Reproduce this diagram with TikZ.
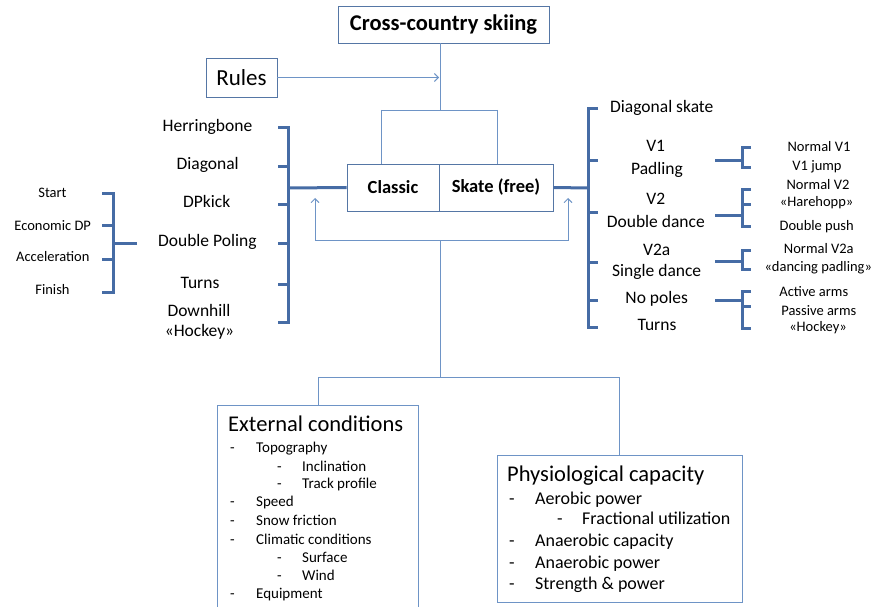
\documentclass[tikz,border=0pt]{standalone}
\usepackage{fontspec}
\setmainfont{Carlito}
\usetikzlibrary{arrows.meta}

\definecolor{brkc}{RGB}{70,108,165}
\definecolor{thinc}{RGB}{110,148,198}
\definecolor{boxc}{RGB}{85,118,165}

\begin{document}
\begin{tikzpicture}[x=1pt,y=1pt,yscale=-1,xscale=1,
  box/.style={draw=boxc, line width=0.9, inner sep=0},
  brk/.style={draw=brkc, line width=3},
  lnk/.style={draw=thinc, line width=0.9},
  tip/.style={-{Straight Barb[length=4pt,width=8pt]}},
  lab/.style={font=\fontsize{17.5}{20}\selectfont, anchor=base, inner sep=0},
  sm/.style={font=\fontsize{14.5}{17}\selectfont, anchor=base, inner sep=0},
  item/.style={font=\fontsize{15}{18}\selectfont, anchor=base west, inner sep=0},
  pitem/.style={font=\fontsize{18}{21}\selectfont, anchor=base west, inner sep=0},
  ttl/.style={font=\fontsize{22.5}{26}\selectfont, anchor=base west, inner sep=0}]
\useasboundingbox (0,0) rectangle (879,607);
\clip (0,0) rectangle (879,607);

% Boxes
\node[box, minimum width=211, minimum height=37, font=\bfseries\fontsize{22.5}{25}\selectfont] (top) at (443.5,24.5) {Cross-country skiing};
\node[box, minimum width=71, minimum height=39, font=\fontsize{23}{26}\selectfont] (rules) at (241.5,77.5) {Rules};
\node[box, minimum width=92, minimum height=47, font=\bfseries\fontsize{18.5}{22}\selectfont] (classic) at (393,187.5) {Classic};
\node[box, minimum width=114, minimum height=47, font=\bfseries\fontsize{18.5}{22}\selectfont] (skate) at (496,187.5) {Skate (free)};
\node[box, draw=thinc, anchor=north west, minimum width=201, minimum height=215] (ext) at (217,405) {};
\node[box, draw=thinc, anchor=north west, minimum width=245, minimum height=147] (phys) at (497,455) {};

%Straight Lines: top to Classic / Skate
\coordinate (split) at (440,110);
\draw[lnk] (top.south -| split) -- (split);
\draw[lnk] (381,110) -- (497,110);
\draw[lnk] (381,110) -- (381,164);
\draw[lnk] (497,110) -- (497,164);
\draw[lnk, tip] (rules.east) -- (439,77.5);

%Straight Lines: loop under the boxes
\coordinate (loopL) at (315,240);
\coordinate (loopR) at (568,240);
\coordinate (hub) at (440,377);
\coordinate (hl) at (318,377);
\coordinate (hr) at (619,377);
\draw[lnk, tip] (440,240) -- (loopL) -- (315,198);
\draw[lnk, tip] (440,240) -- (loopR) -- (568,198);
\draw[lnk] (440,240) -- (hub);
\draw[lnk] (hl) -- (hr);
\draw[lnk] (hl) -- (hl |- ext.north);
\draw[lnk] (hr) -- (hr |- phys.north);

%Bracket: Classic
\coordinate (lb) at (288,188);
\draw[brk] (classic.west) -- (lb);
\draw[brk] (278,128) -- (288,128) -- (288,322) -- (278,322);
\foreach \y in {167,205,243,284} \draw[brk] (278,\y) -- (288,\y);

\node[lab] (herr) at (207.5,131.7) {Herringbone};
\node[lab] (diag) at (207.7,170) {Diagonal};
\node[lab] (dpk) at (206.7,207.7) {DPkick};
\node[lab] (dp) at (207.3,246.7) {Double Poling};
\node[lab] (turnsL) at (200,288) {Turns};
\node[lab] (down) at (199,316.7) {Downhill};
\node[lab] (hockL) at (199.5,336) {«Hockey»};

%Bracket: Double Poling
\draw[brk] (137,243) -- (113,243);
\draw[brk] (102,194) -- (113,194) -- (113,292) -- (102,292);
\foreach \y in {226,259} \draw[brk] (102,\y) -- (113,\y);

\node[sm] (start) at (52.5,197.3) {Start};
\node[sm] (eco) at (52.7,230) {Economic DP};
\node[sm] (acc) at (52.8,261.7) {Acceleration};
\node[sm] (fin) at (52.5,294.3) {Finish};

%Bracket: Skate
\coordinate (rb) at (588,188);
\draw[brk] (skate.east) -- (rb);
\draw[brk] (598,109) -- (588,109) -- (588,327) -- (598,327);
\foreach \y in {161,213,262,300} \draw[brk] (588,\y) -- (598,\y);

\node[lab, anchor=base west] (dskate) at (610,112.7) {Diagonal skate};
\node[lab] (v1) at (655.7,151.7) {V1};
\node[lab] (pad) at (657,175) {Padling};
\node[lab] (v2) at (655.8,205) {V2};
\node[lab] (dd) at (655.8,227.3) {Double dance};
\node[lab] (v2a) at (656.7,255.7) {V2a};
\node[lab] (sd) at (656.7,276.7) {Single dance};
\node[lab] (nop) at (656.7,303.3) {No poles};
\node[lab] (turnsR) at (657,330.7) {Turns};

%Sub brackets
\draw[brk] (715,161) -- (742,161);
\draw[brk] (751,147.5) -- (742,147.5) -- (742,167.5) -- (751,167.5);
\draw[brk] (715,215.7) -- (742,215.7);
\draw[brk] (751,190) -- (742,190) -- (742,226.7) -- (751,226.7);
\draw[brk] (742,205) -- (751,205);
\draw[brk] (715,261.7) -- (742,261.7);
\draw[brk] (751,250) -- (742,250) -- (742,269) -- (751,269);
\draw[brk] (715,300) -- (742,300);
\draw[brk] (751,291.7) -- (742,291.7) -- (742,328.3) -- (751,328.3);
\draw[brk] (742,306.7) -- (751,306.7);

\node[sm] (nv1) at (819,151.7) {Normal V1};
\node[sm] (v1j) at (817,170.7) {V1 jump};
\node[sm] (nv2) at (818,190) {Normal V2};
\node[sm] (hare) at (816.7,206.7) {«Harehopp»};
\node[sm] (dpush) at (816.7,230) {Double push};
\node[sm] (nv2a) at (818.8,253.3) {Normal V2a};
\node[sm] (dancp) at (818.3,271.7) {«dancing padling»};
\node[sm] (act) at (813.8,296.7) {Active arms};
\node[sm] (pas) at (818.8,315) {Passive arms};
\node[sm] (hockR) at (818,331.7) {«Hockey»};

% Text Node: External conditions
\node[ttl] (extT) at (228,431) {External conditions};
\node[item] (d1) at (230,452.7) {-};  \node[item] (topo) at (256,452.7) {Topography};
\node[item] (d2) at (277,471) {-};    \node[item] (incl) at (302,471) {Inclination};
\node[item] (d3) at (277,488.7) {-};  \node[item] (track) at (302,488.7) {Track profile};
\node[item] (d4) at (230,506.7) {-};  \node[item] (speed) at (256,506.7) {Speed};
\node[item] (d5) at (230,525.7) {-};  \node[item] (snow) at (256,525.7) {Snow friction};
\node[item] (d6) at (230,544) {-};    \node[item] (clim) at (256,544) {Climatic conditions};
\node[item] (d7) at (277,562) {-};    \node[item] (surf) at (302,562) {Surface};
\node[item] (d8) at (277,580) {-};    \node[item] (wind) at (302,580) {Wind};
\node[item] (d9) at (230,598) {-};    \node[item] (equip) at (256,598) {Equipment};

% Text Node: Physiological capacity
\node[ttl] (physT) at (507,481.7) {Physiological capacity};
\node[pitem] (p1) at (509,504) {-};   \node[pitem] (aerp) at (535,504) {Aerobic power};
\node[pitem] (p2) at (557,524) {-};   \node[pitem] (frac) at (582,524) {Fractional utilization};
\node[pitem] (p3) at (509,546.7) {-}; \node[pitem] (anc) at (535,546.7) {Anaerobic capacity};
\node[pitem] (p4) at (509,568) {-};   \node[pitem] (anp) at (535,568) {Anaerobic power};
\node[pitem] (p5) at (509,589) {-};   \node[pitem] (str) at (535,589) {Strength \& power};

\end{tikzpicture}
\end{document}
